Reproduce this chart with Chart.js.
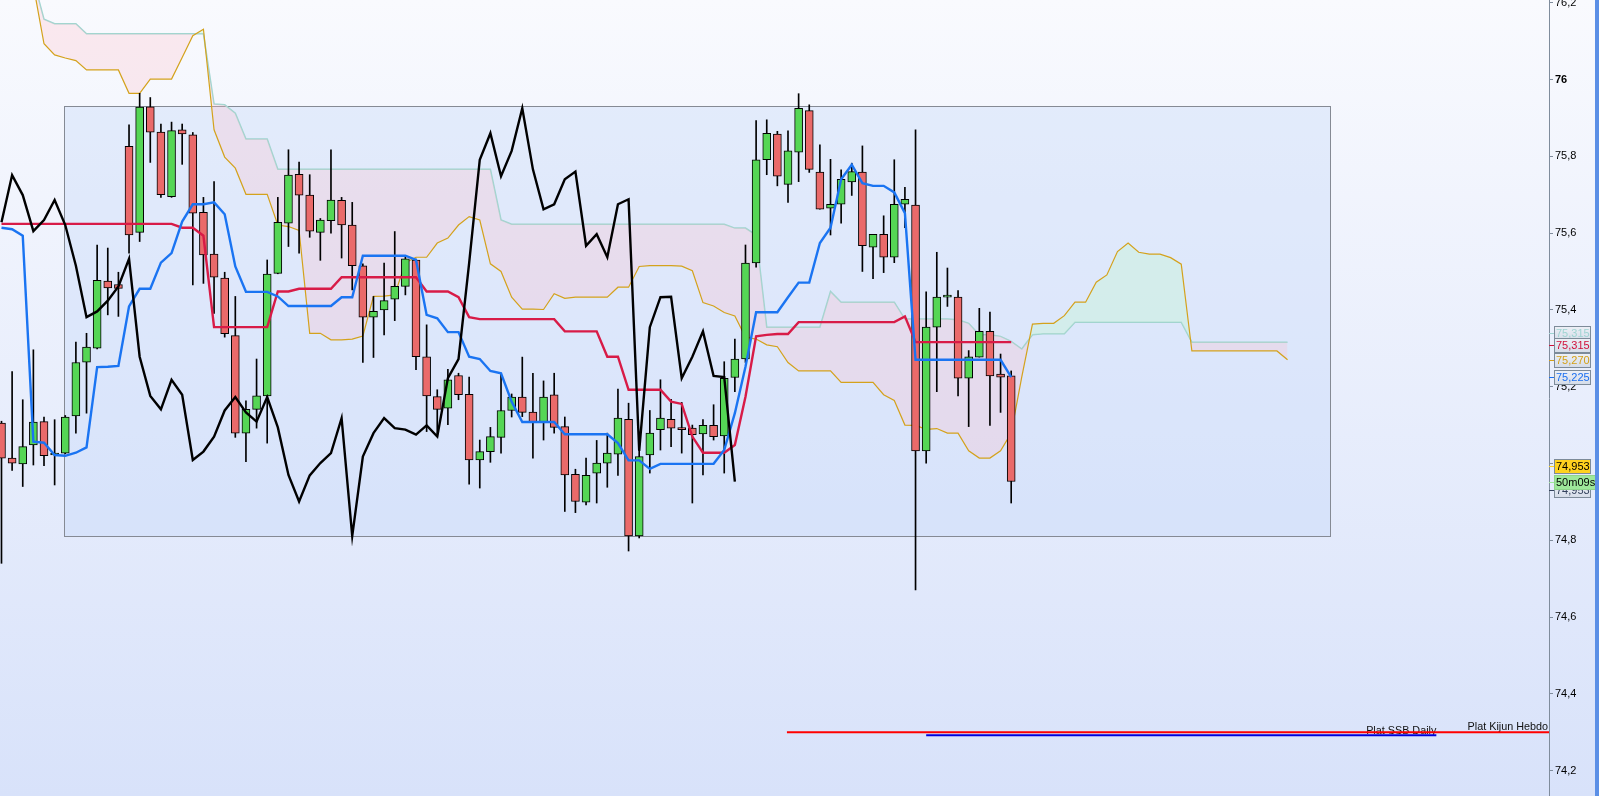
<!DOCTYPE html>
<html>
<head>
<meta charset="utf-8">
<title>Ichimoku</title>
<script src="https://cdn.jsdelivr.net/npm/chart.js@4.4.1/dist/chart.umd.min.js"></script>
<style>
html, body { margin: 0; padding: 0; overflow: hidden; background: #eef2fd; }
#wrap { width: 1599px; height: 796px; }
</style>
</head>
<body>
<div id="wrap"><canvas id="ichimoku"></canvas></div>
<script>
// candles, oldest first (index = bar number)
var opens = [75.105, 75.014, 74.999, 75.048, 75.109, 75.022, 75.027, 75.124, 75.264, 75.300,
  75.475, 75.466, 75.826, 75.602, 75.929, 75.863, 75.695, 75.869, 75.856, 75.654,
  75.545, 75.483, 75.333, 75.079, 75.141, 75.176, 75.495, 75.626, 75.753, 75.699,
  75.602, 75.632, 75.685, 75.621, 75.515, 75.381, 75.400, 75.428, 75.461, 75.530,
  75.278, 75.174, 75.144, 75.229, 75.180, 75.009, 75.031, 75.068, 75.138, 75.173,
  75.134, 75.109, 75.179, 75.096, 74.972, 74.899, 74.975, 75.001, 75.024, 75.115,
  74.811, 75.022, 75.088, 75.115, 75.092, 75.092, 75.077, 75.099, 75.072, 75.224,
  75.272, 75.522, 75.791, 75.858, 75.727, 75.811, 75.919, 75.759, 75.665, 75.675,
  75.733, 75.759, 75.563, 75.597, 75.537, 75.675, 75.673, 75.033, 75.355, 75.433,
  75.433, 75.222, 75.277, 75.344, 75.233, 75.228];
var highs = [75.110, 75.239, 75.166, 75.296, 75.121, 75.114, 75.125, 75.316, 75.339, 75.569,
  75.561, 75.498, 75.882, 75.964, 75.953, 75.884, 75.889, 75.884, 75.862, 75.693,
  75.734, 75.498, 75.435, 75.163, 75.272, 75.530, 75.693, 75.817, 75.785, 75.752,
  75.638, 75.817, 75.693, 75.680, 75.520, 75.435, 75.522, 75.604, 75.541, 75.532,
  75.361, 75.192, 75.245, 75.235, 75.225, 75.061, 75.094, 75.235, 75.181, 75.277,
  75.235, 75.215, 75.235, 75.121, 74.985, 75.014, 75.060, 75.079, 75.194, 75.157,
  75.044, 75.138, 75.218, 75.167, 75.159, 75.100, 75.114, 75.153, 75.265, 75.324,
  75.569, 75.893, 75.895, 75.865, 75.866, 75.963, 75.934, 75.830, 75.792, 75.765,
  75.782, 75.827, 75.597, 75.645, 75.791, 75.719, 75.869, 75.447, 75.550, 75.509,
  75.450, 75.294, 75.404, 75.394, 75.285, 75.241];
var lows = [74.740, 74.982, 74.940, 74.996, 74.994, 74.944, 75.025, 75.079, 75.131, 75.298,
  75.387, 75.383, 75.548, 75.578, 75.784, 75.693, 75.693, 75.779, 75.465, 75.469,
  75.391, 75.329, 75.068, 75.005, 75.092, 75.053, 75.494, 75.565, 75.548, 75.589,
  75.529, 75.600, 75.535, 75.452, 75.263, 75.276, 75.335, 75.372, 75.439, 75.244,
  75.083, 75.070, 75.101, 75.166, 74.946, 74.936, 75.003, 75.027, 75.121, 75.122,
  75.014, 75.061, 75.079, 74.875, 74.872, 74.892, 74.897, 74.938, 74.969, 74.772,
  74.806, 74.975, 75.035, 75.044, 75.027, 74.897, 74.970, 75.061, 74.975, 75.187,
  75.263, 75.511, 75.752, 75.723, 75.680, 75.734, 75.758, 75.662, 75.595, 75.626,
  75.698, 75.500, 75.481, 75.497, 75.523, 75.614, 74.671, 75.001, 75.187, 75.409,
  75.176, 75.096, 75.277, 75.099, 75.133, 74.897];
var closes = [75.014, 75.001, 75.044, 75.108, 75.020, 75.027, 75.121, 75.263, 75.303, 75.477,
  75.457, 75.456, 75.595, 75.928, 75.863, 75.700, 75.867, 75.858, 75.652, 75.543,
  75.485, 75.338, 75.079, 75.141, 75.176, 75.493, 75.628, 75.751, 75.699, 75.605,
  75.634, 75.686, 75.621, 75.515, 75.381, 75.396, 75.424, 75.461, 75.533, 75.278,
  75.176, 75.141, 75.218, 75.179, 75.009, 75.031, 75.070, 75.138, 75.173, 75.133,
  75.109, 75.173, 75.094, 74.970, 74.901, 74.969, 75.001, 75.027, 75.118, 74.811,
  75.018, 75.079, 75.118, 75.092, 75.088, 75.075, 75.099, 75.070, 75.222, 75.272,
  75.522, 75.791, 75.860, 75.748, 75.814, 75.925, 75.766, 75.662, 75.675, 75.740,
  75.760, 75.567, 75.597, 75.537, 75.675, 75.688, 75.033, 75.355, 75.433, 75.434,
  75.222, 75.278, 75.344, 75.228, 75.225, 74.953];

var tenkan = [75.614, 75.610, 75.593, 75.057, 75.054, 75.022, 75.020, 75.028, 75.042, 75.251,
  75.252, 75.254, 75.409, 75.455, 75.455, 75.523, 75.548, 75.630, 75.675, 75.675,
  75.680, 75.649, 75.513, 75.447, 75.447, 75.447, 75.435, 75.410, 75.410, 75.410,
  75.410, 75.410, 75.433, 75.433, 75.541, 75.541, 75.541, 75.541, 75.541, 75.530,
  75.387, 75.378, 75.342, 75.342, 75.278, 75.272, 75.241, 75.235, 75.161, 75.108,
  75.108, 75.108, 75.108, 75.076, 75.076, 75.076, 75.076, 75.076, 75.053, 75.008,
  75.008, 74.986, 74.999, 74.999, 74.999, 74.999, 74.999, 74.999, 75.035, 75.131,
  75.252, 75.394, 75.394, 75.394, 75.433, 75.471, 75.471, 75.574, 75.614, 75.740,
  75.778, 75.730, 75.723, 75.723, 75.706, 75.652, 75.270, 75.270, 75.270, 75.270,
  75.270, 75.270, 75.270, 75.270, 75.270, 75.225];
var kijun = [75.624, 75.624, 75.624, 75.624, 75.624, 75.624, 75.624, 75.624, 75.624, 75.624,
  75.624, 75.624, 75.624, 75.624, 75.624, 75.624, 75.624, 75.614, 75.614, 75.593,
  75.355, 75.355, 75.355, 75.355, 75.355, 75.355, 75.448, 75.448, 75.455, 75.455,
  75.455, 75.455, 75.485, 75.485, 75.485, 75.485, 75.485, 75.485, 75.485, 75.485,
  75.448, 75.448, 75.448, 75.433, 75.381, 75.376, 75.376, 75.376, 75.376, 75.376,
  75.376, 75.376, 75.376, 75.344, 75.344, 75.344, 75.344, 75.278, 75.278, 75.192,
  75.192, 75.192, 75.192, 75.161, 75.155, 75.070, 75.028, 75.028, 75.028, 75.048,
  75.174, 75.331, 75.335, 75.337, 75.337, 75.368, 75.368, 75.368, 75.368, 75.368,
  75.368, 75.368, 75.368, 75.368, 75.368, 75.383, 75.316, 75.316, 75.316, 75.316,
  75.316, 75.316, 75.316, 75.316, 75.316, 75.316];

// senkou spans run 26 bars past the last candle
var senkouA = [76.280, 76.270, 76.260, 76.245, 76.093, 76.064, 76.056, 76.049, 76.025, 76.025,
  76.025, 76.025, 75.964, 75.964, 76.001, 76.001, 76.001, 76.057, 76.114, 76.131,
  75.869, 75.798, 75.769, 75.701, 75.701, 75.701, 75.621, 75.617, 75.607, 75.339,
  75.339, 75.322, 75.322, 75.324, 75.332, 75.435, 75.436, 75.439, 75.523, 75.537,
  75.537, 75.574, 75.587, 75.621, 75.643, 75.634, 75.520, 75.500, 75.433, 75.402,
  75.402, 75.401, 75.442, 75.430, 75.433, 75.433, 75.433, 75.433, 75.459, 75.459,
  75.513, 75.515, 75.515, 75.515, 75.514, 75.502, 75.419, 75.410, 75.393, 75.384,
  75.329, 75.324, 75.309, 75.304, 75.263, 75.241, 75.241, 75.241, 75.241, 75.211,
  75.211, 75.211, 75.211, 75.179, 75.164, 75.100, 75.099, 75.089, 75.091, 75.079,
  75.079, 75.033, 75.014, 75.014, 75.033, 75.079, 75.226, 75.363, 75.365, 75.365,
  75.385, 75.420, 75.420, 75.472, 75.491, 75.552, 75.574, 75.550, 75.545, 75.545,
  75.536, 75.519, 75.293, 75.293, 75.293, 75.293, 75.293, 75.293, 75.293, 75.293,
  75.293, 75.270];
var senkouB = [76.300, 76.290, 76.280, 76.260, 76.157, 76.145, 76.145, 76.145, 76.119, 76.119,
  76.119, 76.119, 76.119, 76.119, 76.119, 76.119, 76.119, 76.119, 76.119, 76.119,
  75.936, 75.934, 75.912, 75.845, 75.845, 75.845, 75.766, 75.766, 75.766, 75.766,
  75.766, 75.766, 75.766, 75.766, 75.766, 75.766, 75.766, 75.766, 75.766, 75.766,
  75.766, 75.766, 75.766, 75.766, 75.766, 75.766, 75.766, 75.634, 75.623, 75.623,
  75.623, 75.623, 75.623, 75.623, 75.623, 75.623, 75.623, 75.623, 75.623, 75.623,
  75.623, 75.623, 75.623, 75.623, 75.623, 75.623, 75.623, 75.623, 75.623, 75.613,
  75.613, 75.595, 75.355, 75.355, 75.355, 75.355, 75.355, 75.355, 75.448, 75.420,
  75.420, 75.420, 75.420, 75.420, 75.420, 75.376, 75.376, 75.376, 75.376, 75.376,
  75.374, 75.365, 75.335, 75.335, 75.331, 75.318, 75.298, 75.335, 75.338, 75.338,
  75.338, 75.368, 75.368, 75.368, 75.368, 75.368, 75.368, 75.368, 75.368, 75.368,
  75.368, 75.368, 75.316, 75.316, 75.316, 75.316, 75.316, 75.316, 75.316, 75.316,
  75.316, 75.316];

// chikou = close plotted 26 bars back
var chikou = closes.slice(26);

var yTicks = [74.2, 74.4, 74.6, 74.8, 75.0, 75.2, 75.4, 75.6, 75.8, 76.0, 76.2];

// drawn objects (bar index / price)
var zone = { from: 5.9, to: 125.0, low: 74.811, high: 75.931 };
var platKijunHebdo = { label: 'Plat Kijun Hebdo', value: 74.300, from: 73.9, to: 146 };
var platSsbDaily = { label: 'Plat SSB Daily', value: 74.292, from: 87.0, to: 135.0 };

// price tags on the right axis
var tags = [
  { text: '75,315', value: 75.315, dy: -10, color: '#9fd4d2', bg: null },
  { text: '75,315', value: 75.315, dy: 2, color: '#d0103a', bg: null },
  { text: '75,270', value: 75.270, dy: 0, color: '#d4a017', bg: null },
  { text: '75,225', value: 75.225, dy: 0, color: '#1a6ff0', bg: null },
  { text: '74,953', value: 74.953, dy: 8, color: '#33415c', bg: null },
  { text: '74,953', value: 74.953, dy: -16, color: '#000000', bg: '#ffd21f' },
  { text: '50m09s', value: 74.953, dy: 0, color: '#000000', bg: '#9ee89a', wide: true }
];

function pts(arr) {
  return arr.map(function (v, i) { return { x: i, y: v }; });
}

var green = '#55d655', red = '#ea6a6a';
var bodyColors = closes.map(function (c, i) { return c >= opens[i] ? green : red; });

var background = {
  id: 'background',
  beforeDraw: function (chart) {
    var c = chart.ctx;
    var g = c.createLinearGradient(0, 0, 0, chart.height);
    g.addColorStop(0, '#f9fafe');
    g.addColorStop(1, '#d8e2fa');
    c.save();
    c.fillStyle = g;
    c.fillRect(0, 0, chart.width, chart.height);
    c.restore();
  },
  beforeDatasetsDraw: function (chart) {
    var c = chart.ctx, x = chart.scales.x, y = chart.scales.y, a = chart.chartArea;
    c.save();
    c.beginPath();
    c.rect(a.left, a.top, a.right - a.left, a.bottom - a.top);
    c.clip();
    var x0 = Math.round(x.getPixelForValue(zone.from)) + 0.5;
    var x1 = Math.round(x.getPixelForValue(zone.to)) + 0.5;
    var y0 = Math.round(y.getPixelForValue(zone.high)) + 0.5;
    var y1 = Math.round(y.getPixelForValue(zone.low)) + 0.5;
    c.fillStyle = 'rgba(190,210,248,0.32)';
    c.fillRect(x0, y0, x1 - x0, y1 - y0);
    c.strokeStyle = '#858a94';
    c.lineWidth = 1;
    c.strokeRect(x0, y0, x1 - x0, y1 - y0);

    c.font = '10.8px "Liberation Sans", Arial, sans-serif';
    c.fillStyle = '#111';
    c.textAlign = 'right';
    c.textBaseline = 'alphabetic';
    c.fillText(platKijunHebdo.label, a.right - 1, y.getPixelForValue(platKijunHebdo.value) - 2);
    c.fillText(platSsbDaily.label, x.getPixelForValue(platSsbDaily.to), y.getPixelForValue(platSsbDaily.value) - 1);
    c.restore();
  },
  afterDraw: function (chart) {
    var c = chart.ctx, y = chart.scales.y, a = chart.chartArea;
    c.save();
    c.font = '11px "Liberation Sans", Arial, sans-serif';
    c.textBaseline = 'middle';
    c.textAlign = 'left';
    tags.forEach(function (t) {
      var py = Math.round(y.getPixelForValue(t.value) + t.dy);
      var bx = a.right + 5, bw = t.wide ? 41 : 36, bh = 14;
      c.strokeStyle = t.bg ? t.bg : t.color;
      c.lineWidth = 1;
      c.beginPath();
      c.moveTo(a.right, py + 0.5);
      c.lineTo(bx, py + 0.5);
      c.stroke();
      if (t.bg) {
        c.fillStyle = t.bg;
      } else {
        var g = c.createLinearGradient(0, py - bh / 2, 0, py + bh / 2);
        g.addColorStop(0, '#eef1f7');
        g.addColorStop(1, '#d6dde9');
        c.fillStyle = g;
      }
      c.fillRect(bx + 0.5, py - bh / 2 + 0.5, bw, bh);
      c.strokeStyle = t.wide ? '#8fd48a' : '#7d8b99';
      c.strokeRect(bx + 0.5, py - bh / 2 + 0.5, bw, bh);
      c.fillStyle = t.color;
      c.fillText(t.text, bx + 2, py + 1);
    });
    c.fillStyle = '#5b8fe6';
    c.fillRect(chart.width - 4, 0, 4, chart.height);
    c.restore();
  }
};

var ctx = document.getElementById('ichimoku').getContext('2d');
var chart = new Chart(ctx, {
  type: 'line',
  data: {
    datasets: [{
      label: 'SSB',
      data: pts(senkouB),
      borderColor: '#9ed4d0',
      borderWidth: 1.5,
      pointRadius: 0,
      fill: false,
      order: 10
    }, {
      label: 'SSA',
      data: pts(senkouA),
      borderColor: '#d4a21c',
      borderWidth: 1.2,
      pointRadius: 0,
      fill: { target: '-1', above: 'rgba(200,245,215,0.45)', below: 'rgba(255,190,200,0.28)' },
      order: 9
    }, {
      label: platKijunHebdo.label,
      data: [{ x: platKijunHebdo.from, y: platKijunHebdo.value }, { x: platKijunHebdo.to, y: platKijunHebdo.value }],
      borderColor: '#ff0000',
      borderWidth: 2,
      pointRadius: 0,
      order: 7
    }, {
      label: platSsbDaily.label,
      data: [{ x: platSsbDaily.from, y: platSsbDaily.value }, { x: platSsbDaily.to, y: platSsbDaily.value }],
      borderColor: '#0000dd',
      borderWidth: 2,
      pointRadius: 0,
      order: 8
    }, {
      type: 'bar',
      label: 'wicks',
      data: lows.map(function (l, i) { return { x: i, y: [l, highs[i]] }; }),
      backgroundColor: '#000',
      borderWidth: 0,
      barThickness: 1,
      grouped: false,
      order: 6
    }, {
      type: 'bar',
      label: 'bodies',
      data: opens.map(function (o, i) { return { x: i, y: [o, closes[i]] }; }),
      backgroundColor: bodyColors,
      borderColor: '#000',
      borderWidth: 1,
      borderSkipped: false,
      barThickness: 8,
      minBarLength: 2,
      grouped: false,
      order: 5
    }, {
      label: 'Kijun',
      data: pts(kijun),
      borderColor: '#d81b47',
      borderWidth: 2.4,
      pointRadius: 0,
      order: 3
    }, {
      label: 'Tenkan',
      data: pts(tenkan),
      borderColor: '#1a74f2',
      borderWidth: 2.4,
      pointRadius: 0,
      order: 2
    }, {
      label: 'Chikou',
      data: pts(chikou),
      borderColor: '#000000',
      borderWidth: 2.4,
      pointRadius: 0,
      order: 1
    }]
  },
  options: {
    responsive: true,
    maintainAspectRatio: false,
    animation: false,
    events: [],
    layout: { padding: 0 },
    elements: { line: { tension: 0 } },
    plugins: {
      legend: { display: false },
      tooltip: { enabled: false },
      title: { display: false }
    },
    scales: {
      x: {
        type: 'linear',
        display: false,
        offset: false,
        min: -0.14,
        max: 145.6
      },
      y: {
        type: 'linear',
        position: 'right',
        min: 74.134,
        max: 76.207,
        afterBuildTicks: function (scale) {
          scale.ticks = yTicks.map(function (v) { return { value: v }; });
        },
        afterFit: function (scale) {
          scale.width = 50;
          scale.paddingTop = 0;
          scale.paddingBottom = 0;
        },
        border: { display: true, color: '#7f8c9c', width: 1 },
        grid: { drawOnChartArea: false, drawTicks: true, tickLength: 4, color: '#7f8c9c' },
        ticks: {
          autoSkip: false,
          padding: 2,
          color: '#000',
          font: function (c) {
            var bold = c.tick && c.tick.value === 76;
            return { family: '"Liberation Sans", Arial, sans-serif', size: 11, weight: bold ? 'bold' : 'normal' };
          },
          callback: function (v) {
            return Number.isInteger(v) ? String(v) : v.toFixed(1).replace('.', ',');
          }
        }
      }
    }
  },
  plugins: [background]
});
</script>
</body>
</html>
